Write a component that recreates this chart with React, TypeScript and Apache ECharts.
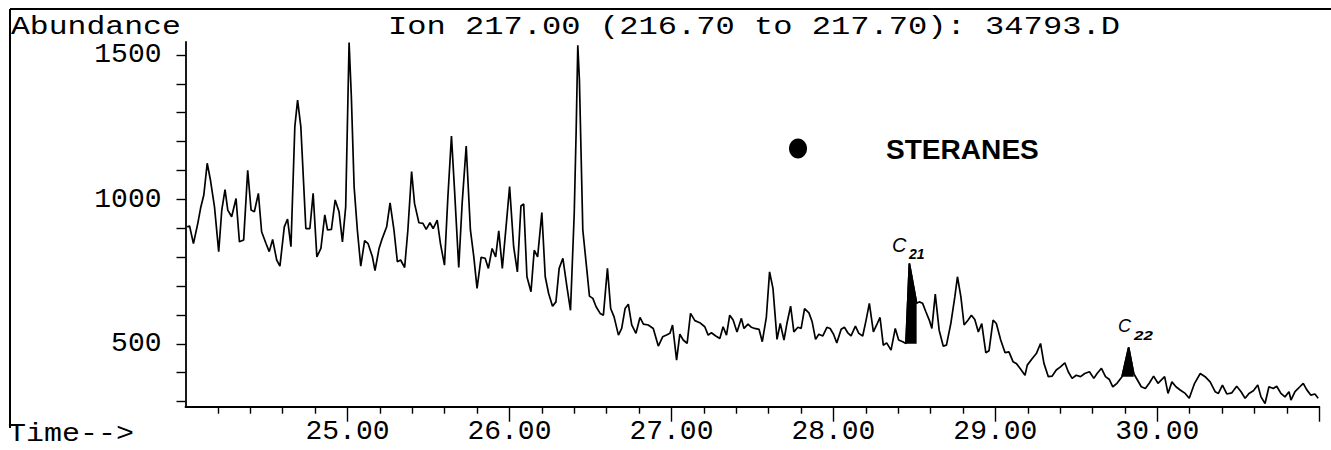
import { useEffect, useRef } from "react";
import * as echarts from "echarts";

// Retention time (min) and abundance (Ion 217)
const retentionTimes = [
  24.010, 24.025, 24.049, 24.076, 24.093, 24.113, 24.134, 24.154, 24.179, 24.205,
  24.224, 24.244, 24.261, 24.285, 24.312, 24.333, 24.359, 24.384, 24.405, 24.425,
  24.450, 24.470, 24.497, 24.517, 24.538, 24.563, 24.583, 24.610, 24.630, 24.651,
  24.675, 24.692, 24.712, 24.743, 24.768, 24.788, 24.811, 24.836, 24.860, 24.877,
  24.901, 24.924, 24.948, 24.969, 24.989, 25.010, 25.024, 25.041, 25.061, 25.082,
  25.106, 25.127, 25.154, 25.170, 25.195, 25.215, 25.242, 25.263, 25.287,
  25.308, 25.328, 25.353, 25.373, 25.396, 25.414, 25.441, 25.466, 25.486, 25.509,
  25.529, 25.554, 25.574, 25.599, 25.620, 25.642, 25.661, 25.687, 25.708, 25.733,
  25.759, 25.780, 25.800, 25.825, 25.850, 25.870, 25.893, 25.915, 25.934, 25.956,
  25.981, 26.001, 26.026, 26.049, 26.071, 26.088, 26.108, 26.133, 26.153, 26.174,
  26.200, 26.221, 26.242, 26.266, 26.287, 26.307, 26.330, 26.355, 26.377, 26.400,
  26.412, 26.422, 26.432, 26.453, 26.478, 26.494, 26.515, 26.535, 26.560, 26.580,
  26.605, 26.625, 26.646, 26.673, 26.693, 26.714, 26.734, 26.755, 26.781, 26.806,
  26.827, 26.857, 26.888, 26.919, 26.946, 26.970, 26.991, 27.007, 27.032, 27.052,
  27.073, 27.097, 27.118, 27.145, 27.175, 27.206, 27.227, 27.247, 27.274, 27.299,
  27.319, 27.340, 27.360, 27.381, 27.405, 27.432, 27.448, 27.473, 27.494, 27.514,
  27.541, 27.561, 27.586, 27.606, 27.627, 27.652, 27.672, 27.695, 27.713, 27.736,
  27.756, 27.781, 27.801, 27.822, 27.849, 27.869, 27.890, 27.910, 27.935, 27.960,
  27.980, 28.001, 28.021, 28.048, 28.068, 28.089, 28.109, 28.136, 28.157, 28.181,
  28.202, 28.222, 28.247, 28.267, 28.288, 28.308, 28.329, 28.356, 28.382, 28.403,
  28.428, 28.448, 28.469, 28.514, 28.530, 28.551, 28.571, 28.592, 28.608, 28.629,
  28.653, 28.678, 28.698, 28.725, 28.750, 28.766, 28.787, 28.807, 28.832, 28.852,
  28.873, 28.895, 28.916, 28.941, 28.961, 28.986, 29.006, 29.033, 29.060, 29.084,
  29.109, 29.129, 29.152, 29.183, 29.197, 29.228, 29.253, 29.279, 29.300, 29.327,
  29.351, 29.376, 29.402, 29.429, 29.450, 29.474, 29.499, 29.526, 29.552, 29.581,
  29.608, 29.628, 29.655, 29.680, 29.704, 29.725, 29.751, 29.782, 29.823, 29.854,
  29.901, 29.926, 29.950, 29.977, 30.004, 30.045, 30.066, 30.090, 30.115, 30.141,
  30.172, 30.197, 30.230, 30.265, 30.295, 30.326, 30.357, 30.377, 30.402, 30.429,
  30.460, 30.490, 30.517, 30.542, 30.566, 30.593, 30.620, 30.640, 30.665, 30.689,
  30.716, 30.737, 30.763, 30.788, 30.813, 30.825, 30.850, 30.880, 30.901, 30.921,
  30.948, 30.973, 30.993,
];

const abundances = [
  905, 908, 847, 917, 969, 1015, 1125, 1067, 974, 819,
  963, 1034, 963, 940, 1003, 853, 859, 1101, 963, 957,
  1021, 888, 847, 819, 861, 790, 769, 905, 932, 836,
  1252, 1344, 1252, 899, 899, 1021, 801, 830, 946, 894,
  896, 998, 957, 853, 974, 1543, 1355, 1044, 894, 769,
  857, 847, 801, 753, 830, 865, 905, 988, 894,
  784, 790, 764, 894, 1096, 986, 919, 917, 896, 919,
  899, 928, 847, 772, 1009, 1219, 1032, 764, 986, 1185,
  894, 801, 692, 799, 796, 761, 830, 801, 891, 761,
  917, 1044, 836, 749, 977, 984, 732, 680, 824, 801,
  954, 732, 674, 630, 645, 761, 796, 697, 616, 951,
  1240, 1534, 1413, 894, 755, 665, 657, 628, 605, 599,
  761, 622, 593, 530, 553, 622, 637, 565, 536, 591,
  568, 565, 553, 492, 524, 530, 536, 565, 443, 533,
  513, 501, 605, 580, 573, 559, 530, 538, 527, 518,
  559, 530, 599, 582, 541, 588, 553, 568, 557, 553,
  550, 507, 591, 749, 692, 515, 570, 513, 570, 630,
  541, 557, 553, 622, 607, 576, 515, 533, 527, 557,
  553, 533, 503, 550, 557, 538, 527, 561, 536, 527,
  582, 640, 541, 565, 591, 495, 503, 478, 553, 513,
  507, 501, 778, 640, 645, 640, 611, 582, 553, 672,
  547, 492, 495, 570, 663, 732, 663, 565, 582, 599,
  584, 541, 570, 469, 476, 582, 570, 513, 469, 472,
  438, 432, 415, 391, 426, 449, 466, 501, 432, 386,
  388, 409, 420, 434, 403, 380, 391, 386, 397, 403,
  380, 397, 415, 386, 376, 351, 363, 386, 487, 397,
  351, 345, 363, 388, 363, 386, 328, 368, 351, 340,
  328, 311, 363, 397, 386, 368, 334, 328, 357, 326,
  330, 353, 334, 311, 328, 337, 357, 316, 293, 351,
  345, 353, 328, 316, 334, 305, 334, 351, 363, 342,
  322, 326, 311,
];

// Shaded (hand-marked) sterane peaks: time window and baseline abundance
const c21Window = [28.448, 28.514];
const c21Baseline = 500;
const c22Window = [29.782, 29.854];
const c22Baseline = 386;

// Axis ticks and labels
const xLabelValues = [25, 26, 27, 28, 29, 30];
const xMajorTickValues = [25, 26, 27, 28, 29, 30, 31];
const yTickValues = [300, 400, 500, 600, 700, 800, 900, 1000, 1100, 1200, 1300, 1400, 1500];
const yLabelValues = [500, 1000, 1500];

const MONO = "'Liberation Mono', 'Courier New', monospace";
const SANS = "'Liberation Sans', Arial, sans-serif";

function windowData(win: number[]) {
  const out: number[][] = [];
  retentionTimes.forEach((t, i) => {
    if (t >= win[0] - 1e-9 && t <= win[1] + 1e-9) out.push([t, abundances[i]]);
  });
  return out;
}

export default function App() {
  const ref = useRef<HTMLDivElement>(null);

  useEffect(() => {
    if (!ref.current) return;
    const chart = echarts.init(ref.current, null, { renderer: "svg" });
    const mainData = retentionTimes.map((t, i) => [t, abundances[i]]);

    const option: any = {
      animation: false,
      backgroundColor: "#ffffff",
      grid: {
        left: 185.5,
        top: 42,
        width: 1133.8,
        height: 364.7,
        containLabel: false,
        outerBoundsMode: "none",
      },
      xAxis: {
        type: "value",
        min: 24,
        max: 31,
        interval: 1,
        axisLine: { show: true, onZero: false, lineStyle: { color: "#000", width: 1.8 } },
        axisTick: {
          show: true,
          customValues: xMajorTickValues,
          length: 15,
          lineStyle: { color: "#000", width: 1.4 },
        },
        minorTick: {
          show: true,
          splitNumber: 5,
          length: 7,
          lineStyle: { color: "#000", width: 1.4 },
        },
        axisLabel: {
          customValues: xLabelValues,
          formatter: (v: number) => v.toFixed(2),
          color: "#000",
          fontFamily: MONO,
          fontSize: 28,
          margin: 25,
          verticalAlign: "middle",
        },
        splitLine: { show: false },
        minorSplitLine: { show: false },
      },
      yAxis: {
        type: "value",
        min: 282,
        max: 1545,
        axisLine: { show: true, onZero: false, lineStyle: { color: "#000", width: 1.8 } },
        axisTick: {
          show: true,
          customValues: yTickValues,
          length: 9,
          lineStyle: { color: "#000", width: 1.4 },
        },
        axisLabel: {
          customValues: yLabelValues,
          formatter: (v: number) => String(Math.round(v)),
          color: "#000",
          fontFamily: MONO,
          fontSize: 28,
          margin: 24,
        },
        splitLine: { show: false },
      },
      series: [
        {
          type: "line",
          data: mainData,
          showSymbol: false,
          symbol: "none",
          lineStyle: { color: "#000", width: 1.7 },
          z: 3,
        },
        {
          type: "line",
          data: windowData(c21Window),
          showSymbol: false,
          symbol: "none",
          lineStyle: { color: "#000", width: 1.7 },
          areaStyle: { color: "#000", opacity: 1, origin: c21Baseline },
          z: 4,
        },
        {
          type: "line",
          data: windowData(c22Window),
          showSymbol: false,
          symbol: "none",
          lineStyle: { color: "#000", width: 1.7 },
          areaStyle: { color: "#000", opacity: 1, origin: c22Baseline },
          z: 4,
        },
      ],
      graphic: [
        { type: "line", shape: { x1: 10, y1: 9, x2: 1331, y2: 9 }, style: { stroke: "#000", lineWidth: 2 } },
        { type: "line", shape: { x1: 10, y1: 9, x2: 10, y2: 428 }, style: { stroke: "#000", lineWidth: 2 } },
        {
          type: "text",
          x: 11,
          y: 27.5,
          scaleX: 1.21,
          style: { text: "Abundance", font: `26px ${MONO}`, fill: "#000", textAlign: "left", textVerticalAlign: "middle" },
        },
        {
          type: "text",
          x: 388,
          y: 27.5,
          scaleX: 1.235,
          style: {
            text: "Ion 217.00 (216.70 to 217.70): 34793.D",
            font: `26px ${MONO}`,
            fill: "#000",
            textAlign: "left",
            textVerticalAlign: "middle",
          },
        },
        {
          type: "text",
          x: 8,
          y: 434,
          scaleX: 1.2,
          style: { text: "Time-->", font: `25px ${MONO}`, fill: "#000", textAlign: "left", textVerticalAlign: "middle" },
        },
        { type: "ellipse", shape: { cx: 798, cy: 148.5, rx: 9, ry: 10 }, style: { fill: "#000" } },
        {
          type: "text",
          x: 886,
          y: 150,
          scaleX: 1.04,
          style: { text: "STERANES", font: `bold 27px ${SANS}`, fill: "#000", textAlign: "left", textVerticalAlign: "middle" },
        },
        {
          type: "text",
          x: 892,
          y: 245,
          style: { text: "C", font: `italic 20px ${SANS}`, fill: "#000", textAlign: "left", textVerticalAlign: "middle" },
        },
        {
          type: "text",
          x: 909,
          y: 254,
          style: { text: "21", font: `italic bold 14px ${SANS}`, fill: "#000", textAlign: "left", textVerticalAlign: "middle" },
        },
        {
          type: "text",
          x: 1118,
          y: 326,
          style: { text: "C", font: `italic 18px ${SANS}`, fill: "#000", textAlign: "left", textVerticalAlign: "middle" },
        },
        {
          type: "text",
          x: 1134,
          y: 335,
          scaleX: 1.3,
          style: { text: "22", font: `italic bold 13px ${SANS}`, fill: "#000", textAlign: "left", textVerticalAlign: "middle" },
        },
      ],
    };

    chart.setOption(option);
    return () => chart.dispose();
  }, []);

  return (
    <div
      ref={ref}
      style={{ position: "fixed", left: 0, top: 0, width: 1331, height: 450, background: "#fff" }}
    />
  );
}
